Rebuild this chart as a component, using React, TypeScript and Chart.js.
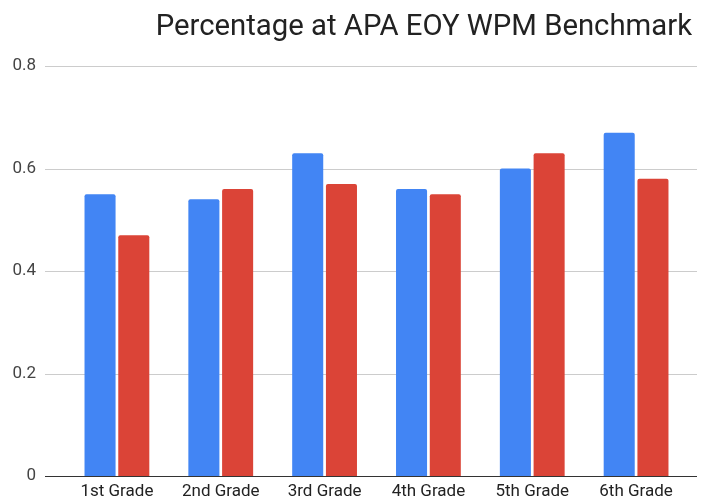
import React, { useEffect, useRef } from "react";
import { Chart, registerables } from "chart.js";

Chart.register(...registerables);

const categories = ["1st Grade", "2nd Grade", "3rd Grade", "4th Grade", "5th Grade", "6th Grade"];
const seriesA = [0.55, 0.54, 0.63, 0.56, 0.60, 0.67];
const seriesB = [0.47, 0.56, 0.57, 0.55, 0.63, 0.58];
const yTicks = [0, 0.2, 0.4, 0.6, 0.8];
const titleText = "Percentage at APA EOY WPM Benchmark";

const gridPlugin = {
  id: "extGrid",
  beforeDatasetsDraw(chart: any) {
    const { ctx, scales } = chart;
    const y = scales.y;
    ctx.save();
    yTicks.forEach((t) => {
      const py = Math.round(y.getPixelForValue(t)) + 0.5;
      ctx.beginPath();
      ctx.strokeStyle = t === 0 ? "#333333" : "#cccccc";
      ctx.lineWidth = 1;
      ctx.moveTo(45, py);
      ctx.lineTo(697, py);
      ctx.stroke();
    });
    ctx.restore();
  },
  afterDraw(chart: any) {
    const { ctx } = chart;
    ctx.save();
    ctx.font = "normal 29.3px Roboto";
    ctx.fillStyle = "#222222";
    ctx.textAlign = "right";
    ctx.textBaseline = "alphabetic";
    ctx.fillText(titleText, 692, 35);
    ctx.restore();
  },
};

export default function App() {
  const ref = useRef<HTMLCanvasElement>(null);
  useEffect(() => {
    if (!ref.current) return;
    const chart = new Chart(ref.current, {
      type: "bar",
      data: {
        labels: categories,
        datasets: [
          { data: seriesA, backgroundColor: "#4285F4", borderRadius: 2, borderSkipped: "bottom" },
          { data: seriesB, backgroundColor: "#DB4437", borderRadius: 2, borderSkipped: "bottom" },
        ],
      },
      options: {
        animation: false,
        responsive: false,
        layout: { padding: { top: 66, right: 16, bottom: 0, left: 0 } },
        datasets: { bar: { categoryPercentage: 0.65, barPercentage: 0.92 } },
        plugins: {
          legend: { display: false },
          tooltip: { enabled: false },
          title: { display: false },
        },
        scales: {
          x: {
            afterFit: (s: any) => { s.height = 26; },
            grid: { display: false, drawTicks: false },
            border: { display: false },
            ticks: { color: "#222222", font: { family: "Roboto", size: 17 }, padding: 6, maxRotation: 0 },
          },
          y: {
            min: 0,
            max: 0.8,
            afterFit: (s: any) => { s.width = 65; s.paddingTop = 0; s.paddingBottom = 0; },
            afterBuildTicks: (s: any) => { s.ticks = yTicks.map((v) => ({ value: v })); },
            grid: { display: false, drawTicks: false },
            border: { display: false },
            ticks: { color: "#444444", font: { family: "Roboto", size: 17 }, padding: 29 },
          },
        },
      },
      plugins: [gridPlugin],
    });
    return () => chart.destroy();
  }, []);
  return (
    <div style={{ position: "fixed", left: 0, top: 0, width: 704, height: 502, background: "#fff" }}>
      <canvas ref={ref} width={704} height={502} />
    </div>
  );
}
